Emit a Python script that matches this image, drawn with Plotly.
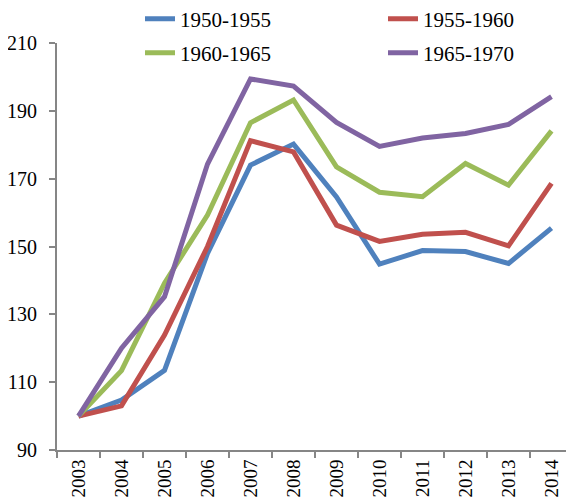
import plotly.graph_objects as go

years = ["2003", "2004", "2005", "2006", "2007", "2008", "2009", "2010", "2011", "2012", "2013", "2014"]

s1950 = [100, 104.7, 113.5, 148, 174, 180.2, 164.6, 144.8, 148.8, 148.5, 145, 155.4]
s1955 = [100, 103, 123.9, 150, 181.2, 177.9, 156.3, 151.5, 153.6, 154.2, 150.2, 168.6]
s1960 = [100, 113.4, 139.2, 159.3, 186.5, 193.2, 173.5, 166, 164.7, 174.5, 168.1, 184.1]
s1965 = [100, 120, 135.2, 174.3, 199.4, 197.3, 186.6, 179.5, 182, 183.3, 186, 194.2]

names = ["1950-1955", "1955-1960", "1960-1965", "1965-1970"]
colors = ["#4F81BD", "#C0504D", "#9BBB59", "#8064A2"]
series = [s1950, s1955, s1960, s1965]
legends = ["legend", "legend", "legend2", "legend2"]

FONT = "Liberation Serif"
W, H = 566, 495   # page body margin of 8px takes the rest of the window

fig = go.Figure()
for name, ys, col, lg in zip(names, series, colors, legends):
    fig.add_trace(go.Scatter(x=years, y=ys, name=name, mode="lines",
                             line=dict(color=col, width=5), legend=lg))

axis_col = "#868686"
# two one-row legends, placed in container coordinates so margins stay fixed
leg = dict(orientation="h", xanchor="left", yanchor="middle",
           xref="container", yref="container",
           font=dict(family=FONT, size=21, color="black"),
           entrywidth=198, entrywidthmode="pixels", bgcolor="rgba(0,0,0,0)")

fig.update_layout(
    width=W, height=H,
    margin=dict(l=49, r=1, t=35, b=53, autoexpand=False),
    plot_bgcolor="white", paper_bgcolor="white",
    font=dict(family=FONT, size=20, color="black"),
    showlegend=True,
    legend=dict(leg, x=132 / W, y=1 - 11 / H),
    legend2=dict(leg, x=132 / W, y=1 - 45 / H),
    xaxis=dict(showline=True, linecolor=axis_col, linewidth=2,
               ticks="outside", tickcolor=axis_col, ticklen=6, tickwidth=2,
               tickson="boundaries", tickangle=-90, showgrid=False,
               tickfont=dict(size=19),
               range=[-0.5, 11.5], automargin=False),
    yaxis=dict(showline=True, linecolor=axis_col, linewidth=2,
               ticks="outside", tickcolor=axis_col, ticklen=6, tickwidth=2,
               range=[90, 210], tickvals=[90, 110, 130, 150, 170, 190, 210],
               showgrid=False, zeroline=False, ticklabelstandoff=8,
               automargin=False),
)

fig.write_html("out.html")
